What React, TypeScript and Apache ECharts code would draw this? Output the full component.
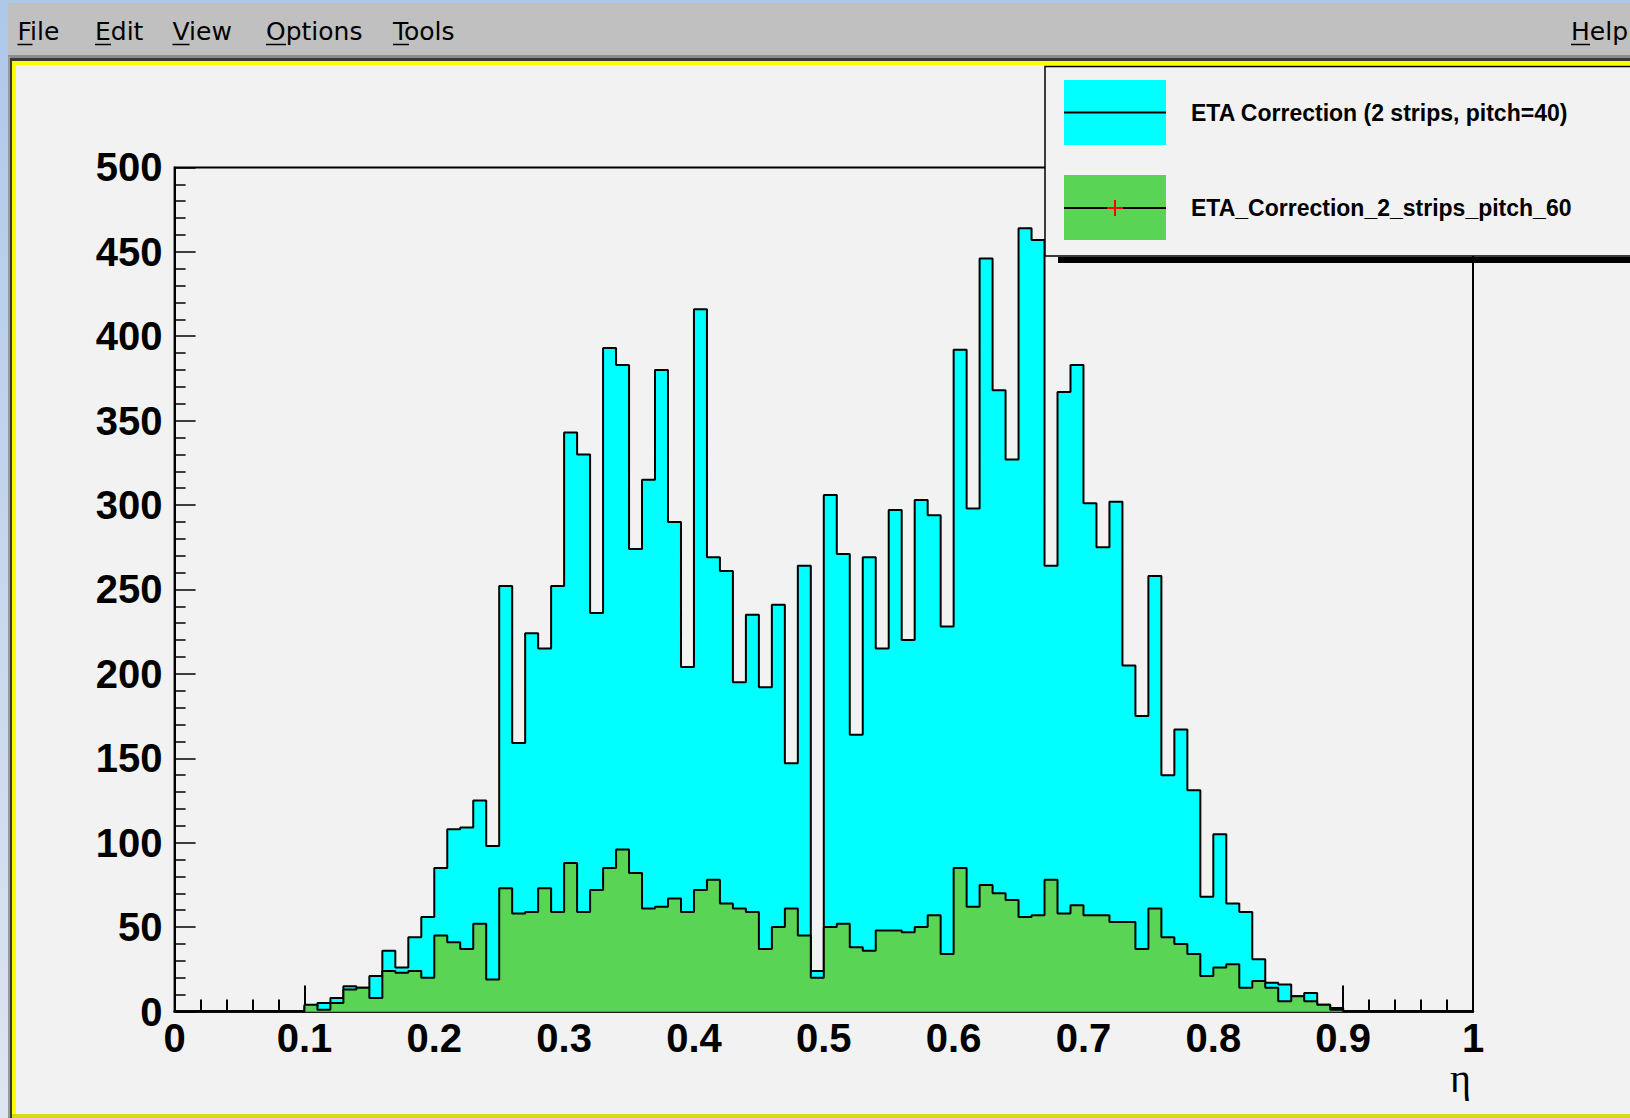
import React, { useEffect, useRef } from "react";
import * as echarts from "echarts";

// Histogram contents: 100 bins of width 0.01 over eta in [0, 1]
const binCount = 100;
const binWidth = 0.01;
const pitch40: number[] = [
  0, 0, 0, 0, 0, 0, 0, 0, 0, 0,
  3, 5, 8, 15, 14, 21, 36, 26, 44, 56,
  85, 108, 109, 125, 98, 252, 159, 224, 215, 252,
  343, 330, 236, 393, 383, 274, 315, 380, 290, 204,
  416, 269, 261, 195, 235, 192, 241, 147, 264, 24,
  306, 271, 164, 269, 215, 297, 220, 303, 294, 228,
  392, 298, 446, 368, 327, 464, 457, 264, 367, 383,
  301, 275, 302, 205, 175, 258, 140, 167, 131, 68,
  105, 64, 59, 31, 17, 16, 9, 11, 4, 2,
  0, 0, 0, 0, 0, 0, 0, 0, 0, 0,
];
const pitch60: number[] = [
  0, 0, 0, 0, 0, 0, 0, 0, 0, 0,
  4, 1, 5, 13, 14, 8, 24, 23, 24, 20,
  45, 41, 37, 52, 19, 73, 58, 59, 73, 59,
  88, 59, 72, 85, 96, 82, 61, 62, 67, 59,
  72, 78, 64, 61, 59, 37, 50, 61, 45, 20,
  50, 52, 38, 36, 48, 48, 47, 50, 57, 34,
  85, 62, 75, 70, 66, 56, 57, 78, 58, 63,
  57, 57, 53, 53, 37, 61, 44, 40, 34, 21,
  26, 28, 14, 18, 14, 6, 9, 6, 4, 1,
  0, 0, 0, 0, 0, 0, 0, 0, 0, 0,
];
const seriesNames = [
  "ETA Correction (2 strips, pitch=40)",
  "ETA_Correction_2_strips_pitch_60",
];
const menuItems = ["File", "Edit", "View", "Options", "Tools"];
const menuX = [17.5, 95, 172.5, 266, 393];
const xAxisTitle = "\u03B7";

function toSteps(vals: number[]): number[][] {
  const pts: number[][] = [];
  for (let i = 0; i < binCount; i++) {
    pts.push([Number((i * binWidth).toFixed(2)), vals[i]]);
  }
  pts.push([1, vals[binCount - 1]]);
  return pts;
}

const W = 1630;
const H = 1118;
const GRID_L = 174.6;
const GRID_R = 1473;
const GRID_T = 167.4;
const GRID_B = 1011.5;

export default function App() {
  const ref = useRef<HTMLDivElement>(null);
  useEffect(() => {
    if (!ref.current) return;
    const chart = echarts.init(ref.current, undefined, { renderer: "svg" });
    const labelFont = {
      fontFamily: "Liberation Sans, Arial, Helvetica, sans-serif",
      fontWeight: "bold" as const,
      fontSize: 40,
      color: "#000",
    };
    const menuFont = "DejaVu Sans, sans-serif";
    const underlineW = [15, 16, 17, 20, 16];

    const graphics: any[] = [
      // window chrome
      { type: "rect", shape: { x: 0, y: 0, width: W, height: 3 }, style: { fill: "#aec8ea" }, z: 50 },
      {
        type: "rect",
        shape: { x: 0, y: 0, width: 8, height: H },
        style: {
          fill: new echarts.graphic.LinearGradient(0, 0, 0, 1, [
            { offset: 0, color: "#aec8ea" },
            { offset: 1, color: "#dde5f0" },
          ]),
        },
        z: 50,
      },
      { type: "rect", shape: { x: 8, y: 3, width: W - 8, height: 53 }, style: { fill: "#c0c0c0" }, z: 50 },
      { type: "rect", shape: { x: 8, y: 55, width: W - 8, height: 3 }, style: { fill: "#8c8c8c" }, z: 50 },
      { type: "rect", shape: { x: 8, y: 56, width: 2, height: H - 56 }, style: { fill: "#9a9a9a" }, z: 50 },
      { type: "rect", shape: { x: 10, y: 58, width: W - 10, height: 3 }, style: { fill: "#3a3a3a" }, z: 50 },
      { type: "rect", shape: { x: 10, y: 58, width: 2, height: H - 58 }, style: { fill: "#3a3a3a" }, z: 50 },
      { type: "rect", shape: { x: 12, y: 61, width: W - 12, height: 4 }, style: { fill: "#ffff00" }, z: 50 },
      { type: "rect", shape: { x: 12, y: 61, width: 4, height: H - 61 }, style: { fill: "#ffff00" }, z: 50 },
      { type: "rect", shape: { x: 12, y: 1114, width: W - 12, height: 4 }, style: { fill: "#d8d820" }, z: 50 },
    ];
    menuItems.forEach((m, i) => {
      graphics.push({
        type: "text",
        x: menuX[i],
        y: 31,
        style: { text: m, font: `25px ${menuFont}`, fill: "#000", textVerticalAlign: "middle" },
        z: 51,
      });
      graphics.push({
        type: "line",
        shape: { x1: menuX[i], y1: 44.5, x2: menuX[i] + underlineW[i], y2: 44.5 },
        style: { stroke: "#000", lineWidth: 1.5 },
        z: 51,
      });
    });
    graphics.push({
      type: "text",
      x: 1571,
      y: 31,
      style: { text: "Help", font: `25px ${menuFont}`, fill: "#000", textVerticalAlign: "middle" },
      z: 51,
    });
    graphics.push({
      type: "line",
      shape: { x1: 1571, y1: 44.5, x2: 1590, y2: 44.5 },
      style: { stroke: "#000", lineWidth: 1.5 },
      z: 51,
    });

    // legend box
    const LX = 1045;
    const LY = 66.5;
    const legendFont = "bold 23px Liberation Sans, Arial, sans-serif";
    graphics.push(
      { type: "rect", shape: { x: 1058, y: 257, width: 600, height: 6 }, style: { fill: "#000" }, z: 100 },
      {
        type: "rect",
        shape: { x: LX, y: LY, width: 620, height: 189.5 },
        style: { fill: "#f2f2f2", stroke: "#000", lineWidth: 1.5 },
        z: 101,
      },
      { type: "rect", shape: { x: 1064, y: 80, width: 102, height: 65 }, style: { fill: "#00ffff" }, z: 102 },
      { type: "line", shape: { x1: 1064, y1: 112.5, x2: 1166, y2: 112.5 }, style: { stroke: "#000", lineWidth: 2 }, z: 103 },
      { type: "rect", shape: { x: 1064, y: 175, width: 102, height: 65 }, style: { fill: "#59d454" }, z: 102 },
      { type: "line", shape: { x1: 1064, y1: 208, x2: 1166, y2: 208 }, style: { stroke: "#000", lineWidth: 2 }, z: 103 },
      { type: "line", shape: { x1: 1107, y1: 208, x2: 1123, y2: 208 }, style: { stroke: "#ff0000", lineWidth: 2 }, z: 104 },
      { type: "line", shape: { x1: 1115, y1: 200, x2: 1115, y2: 216 }, style: { stroke: "#ff0000", lineWidth: 2 }, z: 104 },
      {
        type: "text",
        x: 1191,
        y: 112.5,
        style: { text: seriesNames[0], font: legendFont, fill: "#000", textVerticalAlign: "middle" },
        z: 103,
      },
      {
        type: "text",
        x: 1191,
        y: 208,
        style: { text: seriesNames[1], font: legendFont, fill: "#000", textVerticalAlign: "middle" },
        z: 103,
      },
      {
        type: "text",
        x: 1471,
        y: 1078,
        style: {
          text: xAxisTitle,
          font: "40px Liberation Serif, DejaVu Serif, serif",
          fill: "#000",
          textAlign: "right",
          textVerticalAlign: "middle",
        },
        z: 60,
      }
    );

    chart.setOption({
      animation: false,
      backgroundColor: "#f2f2f2",
      grid: {
        left: GRID_L,
        right: W - GRID_R,
        top: GRID_T,
        bottom: H - GRID_B,
        show: true,
        borderColor: "#000",
        borderWidth: 2,
        backgroundColor: "transparent",
      },
      xAxis: {
        type: "value",
        min: 0,
        max: 1,
        interval: 0.1,
        axisLine: { show: true, onZero: false, lineStyle: { color: "#000", width: 2.5 } },
        axisTick: { show: true, inside: true, length: 26, lineStyle: { color: "#000", width: 2 } },
        minorTick: { show: true, splitNumber: 5, length: 12, lineStyle: { color: "#000", width: 2 } },
        splitLine: { show: false },
        minorSplitLine: { show: false },
        axisLabel: { ...labelFont, margin: 6 },
      },
      yAxis: {
        type: "value",
        min: 0,
        max: 500,
        interval: 50,
        axisLine: { show: true, lineStyle: { color: "#000", width: 2 } },
        axisTick: { show: true, inside: true, length: 21, lineStyle: { color: "#000", width: 1.5 } },
        minorTick: { show: true, splitNumber: 5, length: 11, lineStyle: { color: "#000", width: 1.5 } },
        splitLine: { show: false },
        minorSplitLine: { show: false },
        axisLabel: { ...labelFont, margin: 12 },
      },
      series: [
        {
          name: seriesNames[0],
          type: "line",
          step: "end",
          data: toSteps(pitch40),
          symbol: "none",
          lineStyle: { color: "#000", width: 2 },
          areaStyle: { color: "#00ffff", opacity: 1 },
          z: 2,
        },
        {
          name: seriesNames[1],
          type: "line",
          step: "end",
          data: toSteps(pitch60),
          symbol: "none",
          lineStyle: { color: "#000", width: 2 },
          areaStyle: { color: "#59d454", opacity: 1 },
          z: 3,
        },
      ],
      graphic: { elements: graphics },
    });
    return () => chart.dispose();
  }, []);
  return (
    <div
      ref={ref}
      style={{ position: "absolute", left: 0, top: 0, width: W, height: H }}
    />
  );
}
